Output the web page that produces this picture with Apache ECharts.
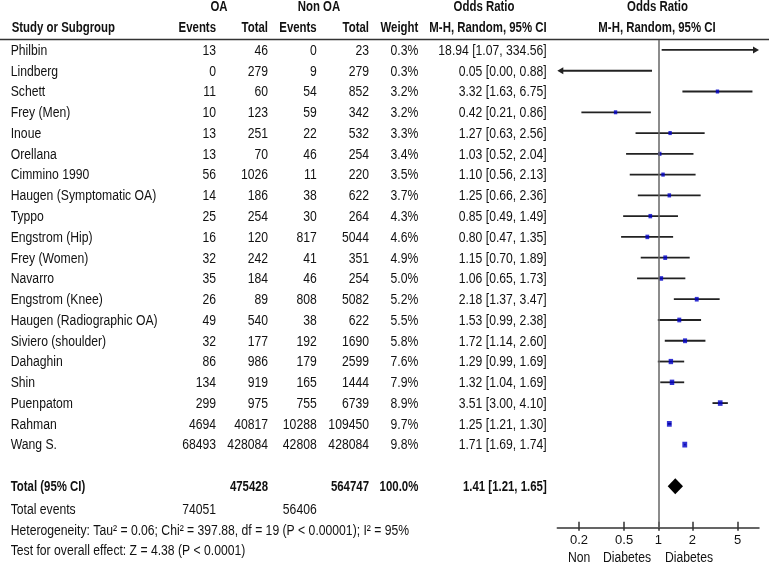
<!DOCTYPE html>
<html><head><meta charset="utf-8">
<script src="https://cdn.jsdelivr.net/npm/echarts@6/dist/echarts.min.js"></script>
<style>html,body{margin:0;padding:0;background:#fff}#c{width:769px;height:567px}</style>
</head><body><div id="c"></div>
<script>
const studies = ['Philbin','Lindberg','Schett','Frey (Men)','Inoue','Orellana','Cimmino 1990','Haugen (Symptomatic OA)','Typpo','Engstrom (Hip)','Frey (Women)','Navarro','Engstrom (Knee)','Haugen (Radiographic OA)','Siviero (shoulder)','Dahaghin','Shin','Puenpatom','Rahman','Wang S.'];
const oaEvents = [13,0,11,10,13,13,56,14,25,16,32,35,26,49,32,86,134,299,4694,68493];
const oaTotal = [46,279,60,123,251,70,1026,186,254,120,242,184,89,540,177,986,919,975,40817,428084];
const nonEvents = [0,9,54,59,22,46,11,38,30,817,41,46,808,38,192,179,165,755,10288,42808];
const nonTotal = [23,279,852,342,532,254,220,622,264,5044,351,254,5082,622,1690,2599,1444,6739,109450,428084];
const weights = [0.3,0.3,3.2,3.2,3.3,3.4,3.5,3.7,4.3,4.6,4.9,5.0,5.2,5.5,5.8,7.6,7.9,8.9,9.7,9.8];
const orEst = [18.94,0.05,3.32,0.42,1.27,1.03,1.10,1.25,0.85,0.80,1.15,1.06,2.18,1.53,1.72,1.29,1.32,3.51,1.25,1.71];
const ciLow = [1.07,0.00,1.63,0.21,0.63,0.52,0.56,0.66,0.49,0.47,0.70,0.65,1.37,0.99,1.14,0.99,1.04,3.00,1.21,1.69];
const ciHigh = [334.56,0.88,6.75,0.86,2.56,2.04,2.13,2.36,1.49,1.35,1.89,1.73,3.47,2.38,2.60,1.69,1.69,4.10,1.30,1.74];
const totalOA = 475428, totalNon = 564747, totalEventsOA = 74051, totalEventsNon = 56406, totalWeight = '100.0%';
const pooled = [1.41, 1.21, 1.65]; // estimate, low, high
const tickValues = [0.2, 0.5, 1, 2, 5];
const heterogeneity = 'Heterogeneity: Tau\u00b2 = 0.06; Chi\u00b2 = 397.88, df = 19 (P < 0.00001); I\u00b2 = 95%';
const overallEffect = 'Test for overall effect: Z = 4.38 (P < 0.0001)';
const leftFavour = ['Non', 'Diabetes'], rightFavour = 'Diabetes';

const XMIN = -0.89, XMAX = 0.887;
const TOTAL_ROW = studies.length + 1;
const lineColor = '#222';

const chart = echarts.init(document.getElementById('c'), null, {renderer: 'canvas'});

const ciData = studies.map((s, i) => [ciLow[i], ciHigh[i], i]);
const sqData = studies.map((s, i) => ({
  value: [Math.log10(orEst[i]), i],
  symbolSize: [1.1 * Math.sqrt(weights[i]) + 1.4, 1.3 * Math.sqrt(weights[i]) + 1.7]
}));
const tickLog = tickValues.map(v => Math.log10(v));

chart.setOption({
  animation: false,
  backgroundColor: '#fff',
  grid: {left: 557.3, right: 10, top: 40, bottom: 39.3, containLabel: false},
  xAxis: [{
    type: 'value', min: XMIN, max: XMAX, position: 'bottom',
    splitLine: {show: false},
    axisLine: {show: true, onZero: false, lineStyle: {color: '#333', width: 1.5}},
    axisTick: {show: true, inside: true, length: 6, customValues: tickLog, lineStyle: {color: '#333', width: 1.5}},
    axisLabel: {show: true, margin: 6, fontSize: 13, color: '#111', fontFamily: 'Arial, "Liberation Sans", sans-serif',
      customValues: tickLog,
      formatter: v => String(Math.round(Math.pow(10, v) * 10) / 10)}
  }, {
    type: 'value', min: XMIN, max: XMAX, position: 'bottom', offset: 0,
    splitLine: {show: false},
    axisLine: {show: false, onZero: false},
    axisTick: {show: true, inside: false, length: 3, customValues: tickLog, lineStyle: {color: '#333', width: 1.5}},
    axisLabel: {show: false}
  }],
  yAxis: {type: 'value', inverse: true, min: -0.48, max: 23, show: false},
  series: [{
    type: 'custom', clip: false, data: ciData, z: 3,
    renderItem: function (params, api) {
      const lo = api.value(0), hi = api.value(1), row = api.value(2);
      let a = lo > 0 ? Math.log10(lo) : -Infinity, b = Math.log10(hi);
      const la = a < XMIN, ra = b > XMAX;
      a = Math.max(a, XMIN); b = Math.min(b, XMAX);
      const p1 = api.coord([a, row]), p2 = api.coord([b, row]);
      const ch = [{type: 'line', shape: {x1: p1[0] + (la ? 4 : 0), y1: p1[1], x2: p2[0] - (ra ? 4 : 0), y2: p2[1]}, style: {stroke: lineColor, lineWidth: 1.8}}];
      if (ra) ch.push({type: 'polygon', shape: {points: [[p2[0], p2[1]], [p2[0] - 6, p2[1] - 3.5], [p2[0] - 6, p2[1] + 3.5]]}, style: {fill: lineColor}});
      if (la) ch.push({type: 'polygon', shape: {points: [[p1[0], p1[1]], [p1[0] + 6, p1[1] - 3.5], [p1[0] + 6, p1[1] + 3.5]]}, style: {fill: lineColor}});
      return {type: 'group', children: ch};
    },
    markLine: {silent: true, symbol: ['none', 'none'], label: {show: false},
      lineStyle: {color: '#666', width: 1.5, type: 'solid'}, data: [{xAxis: 0}]}
  }, {
    type: 'scatter', symbol: 'rect', data: sqData, clip: true, z: 4,
    itemStyle: {color: '#0000c8'}
  }, {
    type: 'custom', clip: false, z: 4,
    data: [[pooled[0], pooled[1], pooled[2], TOTAL_ROW]],
    renderItem: function (params, api) {
      const e = Math.log10(api.value(0)), l = Math.log10(api.value(1)), h = Math.log10(api.value(2)), r = api.value(3);
      const pe = api.coord([e, r]), pl = api.coord([l, r]), ph = api.coord([h, r]);
      return {type: 'polygon', shape: {points: [[pl[0], pl[1]], [pe[0], pe[1] - 8], [ph[0], ph[1]], [pe[0], pe[1] + 8]]}, style: {fill: '#000'}};
    }
  }]
});

const FONT = 'Arial, "Liberation Sans", sans-serif';
function T(text, x, y, align, bold) {
  return {type: 'text', x: x, y: y, scaleX: bold ? 0.815 : 0.87, silent: true, z: 10,
    style: {text: String(text), x: 0, y: 0, align: align, verticalAlign: 'middle',
      font: (bold ? 'bold ' : '') + '14px ' + FONT, fill: '#111'}};
}
const rowY = i => chart.convertToPixel({yAxisIndex: 0}, i) + 1;
const COL = {name: 10.7, oaE: 216, oaT: 268, nE: 316.7, nT: 369, w: 418.3, or: 546.7};
const g = [];
// header
g.push({type: 'line', silent: true, shape: {x1: 0, y1: 39.5, x2: 769, y2: 39.5}, style: {stroke: '#333', lineWidth: 1.6}});
g.push(T('OA', 219, 7.5, 'center', true));
g.push(T('Non OA', 319, 7.5, 'center', true));
g.push(T('Odds Ratio', 484, 7.5, 'center', true));
g.push(T('Odds Ratio', 657.5, 7.5, 'center', true));
g.push(T('Study or Subgroup', 11.7, 28, 'left', true));
g.push(T('Events', COL.oaE, 28, 'right', true));
g.push(T('Total', COL.oaT, 28, 'right', true));
g.push(T('Events', COL.nE, 28, 'right', true));
g.push(T('Total', COL.nT, 28, 'right', true));
g.push(T('Weight', COL.w, 28, 'right', true));
g.push(T('M-H, Random, 95% CI', 488, 28, 'center', true));
g.push(T('M-H, Random, 95% CI', 657, 28, 'center', true));
// rows
studies.forEach((s, i) => {
  const y = rowY(i);
  g.push(T(s, COL.name, y, 'left', false));
  g.push(T(oaEvents[i], COL.oaE, y, 'right', false));
  g.push(T(oaTotal[i], COL.oaT, y, 'right', false));
  g.push(T(nonEvents[i], COL.nE, y, 'right', false));
  g.push(T(nonTotal[i], COL.nT, y, 'right', false));
  g.push(T(weights[i].toFixed(1) + '%', COL.w, y, 'right', false));
  g.push(T(orEst[i].toFixed(2) + ' [' + ciLow[i].toFixed(2) + ', ' + ciHigh[i].toFixed(2) + ']', COL.or, y, 'right', false));
});
// total
const ty = rowY(TOTAL_ROW);
g.push(T('Total (95% CI)', COL.name, ty, 'left', true));
g.push(T(totalOA, COL.oaT, ty, 'right', true));
g.push(T(totalNon, COL.nT, ty, 'right', true));
g.push(T(totalWeight, COL.w, ty, 'right', true));
g.push(T(pooled[0].toFixed(2) + ' [' + pooled[1].toFixed(2) + ', ' + pooled[2].toFixed(2) + ']', COL.or, ty, 'right', true));
g.push(T('Total events', COL.name, 510.5, 'left', false));
g.push(T(totalEventsOA, COL.oaE, 510.5, 'right', false));
g.push(T(totalEventsNon, COL.nE, 510.5, 'right', false));
g.push(T(heterogeneity, COL.name, 531, 'left', false));
g.push(T(overallEffect, COL.name, 551, 'left', false));
// favours labels
g.push(T(leftFavour[0], 568, 558, 'left', false));
g.push(T(leftFavour[1], 603, 558, 'left', false));
g.push(T(rightFavour, 665, 558, 'left', false));
chart.setOption({graphic: g});
</script>
</body></html>
